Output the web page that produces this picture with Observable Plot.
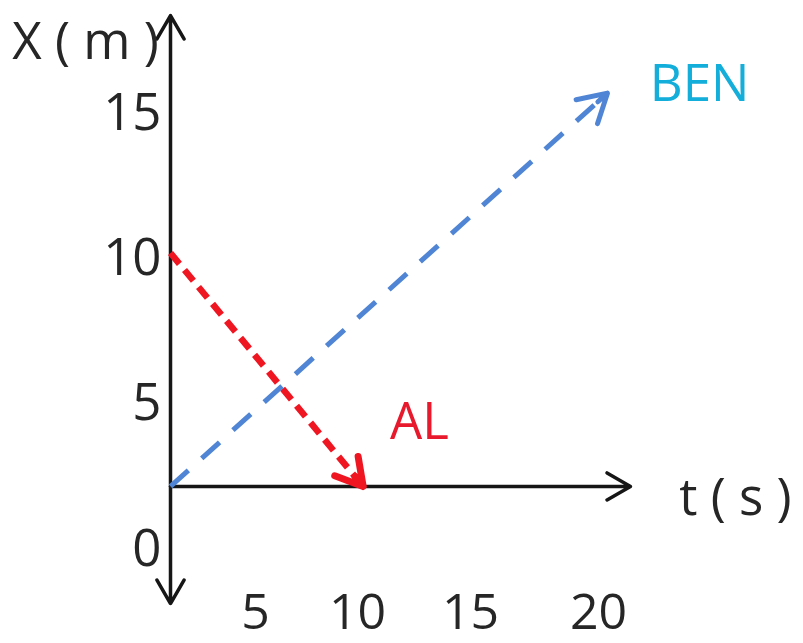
<!DOCTYPE html>
<html><head><meta charset="utf-8">
<script src="https://cdn.jsdelivr.net/npm/d3@7"></script>
<script src="https://cdn.jsdelivr.net/npm/@observablehq/plot@0.6"></script>
<style>html,body{margin:0;padding:0;background:#fff;} #chart{width:803px;height:643px;}</style>
</head><body><div id="chart"></div>
<script>
// ---- data ----
const tTicks = [5, 10, 15, 20];          // t (s) tick labels
const xTicks = [0, 5, 10, 15];           // X (m) tick labels
const seriesNames = ["AL", "BEN"];
const seriesT0 = [0, 0];
const seriesX0 = [10.2, 2.17];
const seriesT1 = [10.25, 20.35];
const seriesX1 = [2.17, 15.7];
const axisOriginT = 0, axisOriginX = 2.17;
const axisEndT = 21.25, axisTopX = 18.37, axisBottomX = -1.86;
const labelTexts = ["X ( m )", "t ( s )", "BEN", "AL"];
const labelT = [-5.0, 25.35, 23.95, 12.74];
const labelX = [17.44, 1.75, 16.0, 4.37];

// ---- build tables ----
const series = seriesNames.map((name, i) => ({name, t0: seriesT0[i], x0: seriesX0[i], t1: seriesT1[i], x1: seriesX1[i]}));
const axesSegs = [
  {t0: axisOriginT, x0: axisOriginX, t1: axisEndT, x1: axisOriginX},
  {t0: axisOriginT, x0: axisOriginX, t1: axisOriginT, x1: axisTopX},
  {t0: axisOriginT, x0: axisOriginX, t1: axisOriginT, x1: axisBottomX}
];
const labels = labelTexts.map((text, i) => ({text, t: labelT[i], x: labelX[i]}));
const labelColor = {"X ( m )": "#262626", "t ( s )": "#262626", "BEN": "#14aedb", "AL": "#e8192c"};
const al = series.filter(d => d.name === "AL");
const ben = series.filter(d => d.name === "BEN");

const FONT = 51;
const chart = Plot.plot({
  width: 803,
  height: 643,
  marginLeft: 170,
  marginRight: 0,
  marginTop: 0,
  marginBottom: 50,
  style: {fontFamily: "'Open Sans', sans-serif", fontSize: FONT + "px", color: "#262626", background: "#fff"},
  x: {type: "linear", domain: [0, 5, 10, 15, 20], range: [170, 255, 357, 470, 598]},
  y: {type: "linear", domain: [0, 15], range: [549, 113]},
  marks: [
    Plot.axisX(tTicks, {tickSize: 0, tickPadding: 0, label: null, fontSize: 50}),
    Plot.axisY(xTicks, {tickSize: 0, tickPadding: 9, label: null, fontSize: FONT}),
    // black axes with arrowheads
    Plot.arrow(axesSegs, {x1: "t0", y1: "x0", x2: "t1", y2: "x1", stroke: "#161616", strokeWidth: 3.5, headLength: 11.6, headAngle: 60}),
    // AL dashed line + solid head
    Plot.link(al, {x1: "t0", y1: "x0", x2: "t1", y2: "x1", stroke: "#ef1622", strokeWidth: 6.5, strokeDasharray: "14,8"}),
    Plot.arrow(al, {x1: "t0", y1: "x0", x2: "t1", y2: "x1", stroke: "#ef1622", strokeWidth: 7, headLength: 6.5, headAngle: 60, insetStart: 290}),
    // BEN dashed line + solid head
    Plot.link(ben, {x1: "t0", y1: "x0", x2: "t1", y2: "x1", stroke: "#4f85d4", strokeWidth: 5, strokeDasharray: "24,18"}),
    Plot.arrow(ben, {x1: "t0", y1: "x0", x2: "t1", y2: "x1", stroke: "#4f85d4", strokeWidth: 5, headLength: 9.6, headAngle: 60, insetStart: 575}),
    // text labels
    Plot.text(labels, {x: "t", y: "x", text: "text", fill: d => labelColor[d.text], fontSize: FONT, textAnchor: "middle"})
  ]
});
document.getElementById("chart").appendChild(chart);
</script>
</body></html>
